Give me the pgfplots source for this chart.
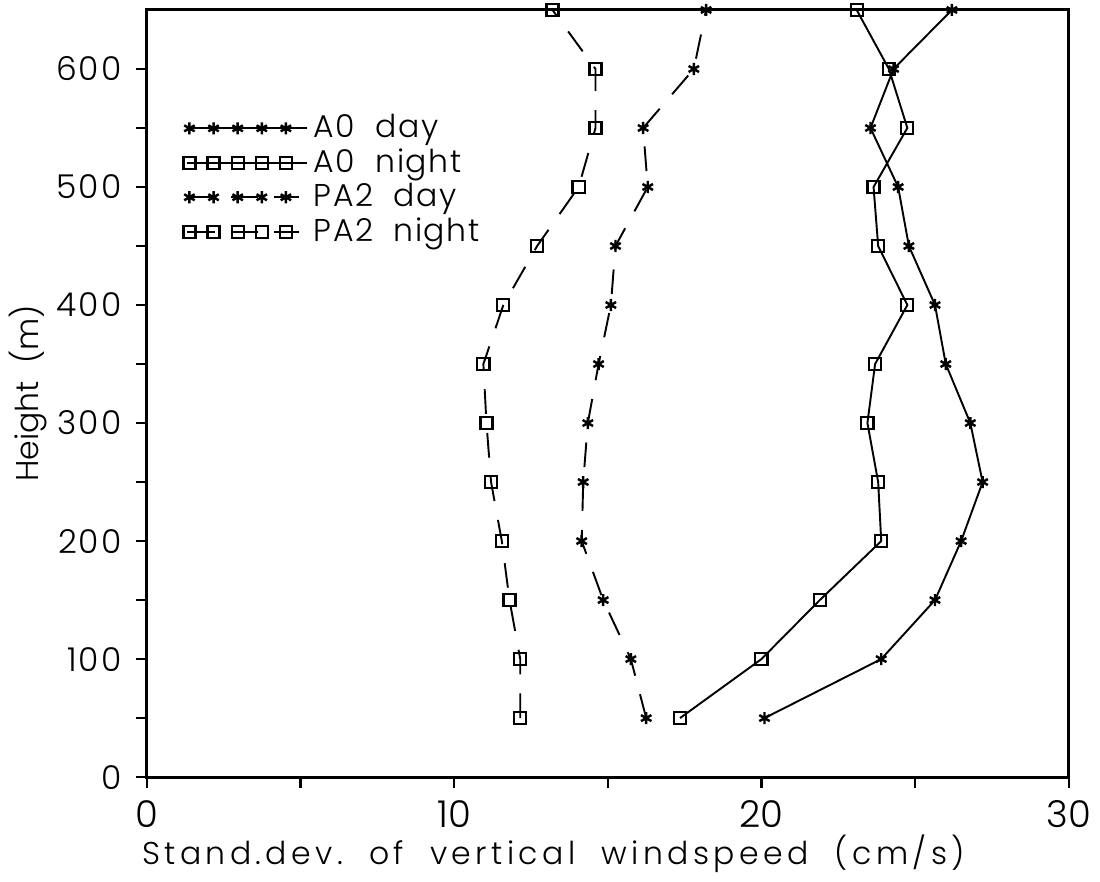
\documentclass[border=0pt]{standalone}
\usepackage{fontspec}
\setmainfont{Poppins}[UprightFont={* Light}]
\usepackage{pgfplots}
\pgfplotsset{compat=1.18}
\begin{document}
\fontsize{10}{12}\selectfont
\begin{tikzpicture}
\begin{axis}[
  scale only axis,
  width=336.4pt, height=280pt,
  xmin=0, xmax=30, ymin=0, ymax=650,
  xtick={0,10,20,30}, minor xtick={5,15,25},
  ytick={0,100,...,600}, minor ytick={50,150,...,550},
  xtick pos=left, ytick pos=left,
  tick align=outside,
  major tick length=4pt, minor tick length=4pt,
  tick style={black, line width=0.8pt},
  axis line style={line width=1.1pt},
  /pgf/number format/assume math mode=true,
  xticklabel style={font=\fontsize{13.5}{14}\selectfont, yshift=-1pt},
  yticklabel style={font=\fontsize{12}{14}\selectfont\addfontfeatures{LetterSpace=6}, xshift=-1.8pt},
  xlabel={Stand.dev.\ \ of\ \ vertical\ \ windspeed\ \ (cm/s)},
  ylabel={Height\ \ (m)},
  xlabel style={font=\fontsize{11.5}{13}\selectfont\addfontfeatures{LetterSpace=14},
    at={(rel axis cs:0.441,-0.1)}, anchor=center},
  ylabel style={font=\fontsize{11.5}{14}\selectfont,
    at={(rel axis cs:-0.129,0.5)}, anchor=center},
  clip=false,
  legend style={at={(0.036,0.875)}, anchor=north west, draw=none, fill=none,
    font=\fontsize{11.5}{13}\selectfont\addfontfeatures{LetterSpace=5}, row sep=-1.5pt, inner sep=1pt},
  legend cell align=left,
  legend image code/.code={%
    \path (-1pt,0pt) -- (43pt,0pt);
    \draw[#1] plot coordinates {(0pt,0pt) (8.8pt,0pt) (17.6pt,0pt) (26.4pt,0pt) (35.2pt,0pt)};},
]
\path (rel axis cs:-0.1589,-0.1338) rectangle (rel axis cs:1.0303,1.013);
% A0 day
\addplot[black, line width=0.7pt, mark=asterisk, mark size=2.2pt, mark options={solid, line width=0.9pt}] coordinates {
(20.1,50) (23.9,100) (25.65,150) (26.5,200) (27.2,250) (26.8,300) (26.0,350)
(25.65,400) (24.8,450) (24.45,500) (23.55,550) (24.3,600) (26.2,650)};
\addlegendentry{A0\ \ day}
% A0 night
\addplot[black, line width=0.7pt, mark=square, mark size=2.2pt, mark options={solid, line width=0.8pt}] coordinates {
(17.35,50) (20.0,100) (21.9,150) (23.9,200) (23.8,250) (23.45,300) (23.7,350)
(24.75,400) (23.8,450) (23.65,500) (24.75,550) (24.15,600) (23.1,650)};
\addlegendentry{A0\ \ night}
% PA2 day
\addplot[black, line width=0.7pt, dash pattern=on 9pt off 7pt, mark=asterisk, mark size=2.2pt, mark options={solid, line width=0.9pt}] coordinates {
(16.25,50) (15.75,100) (14.85,150) (14.15,200) (14.2,250) (14.35,300) (14.7,350)
(15.1,400) (15.25,450) (16.3,500) (16.15,550) (17.8,600) (18.2,650)};
\addlegendentry{PA2\ \ day}
% PA2 night
\addplot[black, line width=0.7pt, dash pattern=on 9pt off 7pt, mark=square, mark size=2.2pt, mark options={solid, line width=0.8pt}] coordinates {
(12.15,50) (12.15,100) (11.8,150) (11.55,200) (11.2,250) (11.05,300) (10.95,350)
(11.6,400) (12.7,450) (14.05,500) (14.6,550) (14.6,600) (13.2,650)};
\addlegendentry{PA2\ \ night}
\end{axis}
\end{tikzpicture}
\end{document}
